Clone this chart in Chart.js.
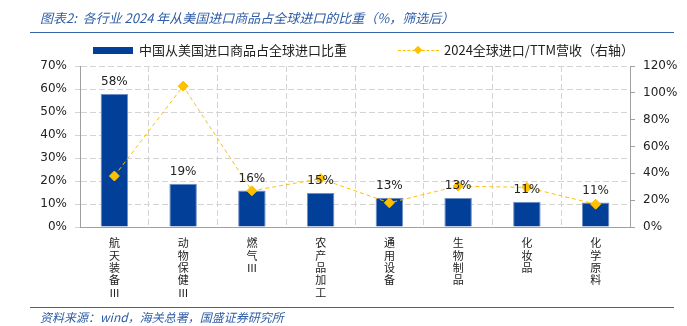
<!DOCTYPE html>
<html>
<head>
<meta charset="utf-8">
<script src="https://cdn.jsdelivr.net/npm/chart.js@4"></script>
<style>
  body { margin: 0; background: #fff; }
  #wrap { position: relative; width: 687px; height: 326px; overflow: hidden; }
  #chart { position: absolute; left: 0; top: 0; }
  .title, .source {
    position: absolute; left: 40px; color: #2E5DA5; font-style: italic;
    font-family: "Noto Sans CJK SC", sans-serif; white-space: nowrap;
  }
  .title { top: 8px; font-size: 13px; }
  .source { top: 308px; font-size: 12px; }
  .rule { position: absolute; left: 30px; width: 644px; height: 1px; background: #3A64A8; }
  .legend { position: absolute; top: 40px; font-family: "Noto Sans CJK SC", sans-serif; font-size: 13px; color: #222; white-space: nowrap; }
</style>
</head>
<body>
<div id="wrap">
  <canvas id="chart" width="687" height="326"></canvas>
  <div class="title">图表2:&nbsp; 各行业 2024 年从美国进口商品占全球进口的比重（%，筛选后）</div>
  <div class="rule" style="top:32px"></div>
  <div class="legend" style="left:93px">
    <span style="display:inline-block;width:40px;height:7px;background:#023F98;vertical-align:middle;margin-right:6px;position:relative;top:-1px"></span>中国从美国进口商品占全球进口比重
  </div>
  <div class="legend" style="left:398px">
    <span style="display:inline-block;width:41px;height:10px;vertical-align:middle;margin-right:5px;position:relative;top:-1px">
      <span style="position:absolute;left:0;top:5px;width:41px;border-top:1px dashed #FFC000"></span>
      <span style="position:absolute;left:17px;top:2px;width:6px;height:6px;background:#FFC000;transform:rotate(45deg)"></span>
    </span>2024全球进口/TTM营收（右轴）
  </div>
  <div class="rule" style="top:307px"></div>
  <div class="source">资料来源：wind，海关总署，国盛证券研究所</div>
</div>
<script>
const categories = ["航天装备Ⅲ", "动物保健Ⅲ", "燃气Ⅲ", "农产品加工", "通用设备", "生物制品", "化妆品", "化学原料"];
const shareUS = [57.8, 18.8, 15.9, 14.8, 12.7, 12.6, 11.0, 10.6];
const importToRevenue = [38, 105, 27, 36, 18, 30.5, 29.5, 17];
const leftTicks = [0, 10, 20, 30, 40, 50, 60, 70];
const rightTicks = [0, 20, 40, 60, 80, 100, 120];

const gridColor = "#D4D4D4";
const axisColor = "#A0A0A0";
const tickFont = { family: "DejaVu Sans", size: 12 };

// percentage labels above the bars (bar dataset is index 1)
const barLabels = {
  id: "barLabels",
  afterDatasetsDraw(chart) {
    const ctx = chart.ctx;
    const meta = chart.getDatasetMeta(1);
    ctx.save();
    ctx.font = "12px 'DejaVu Sans'";
    ctx.fillStyle = "#222";
    ctx.textAlign = "center";
    ctx.textBaseline = "bottom";
    meta.data.forEach((bar, i) => {
      ctx.fillText(Math.round(shareUS[i]) + "%", bar.x, bar.y - 6);
    });
    ctx.restore();
  }
};

new Chart(document.getElementById("chart"), {
  type: "bar",
  data: {
    labels: categories.map(c => Array.from(c)),
    datasets: [
      {
        type: "line",
        label: "2024全球进口/TTM营收（右轴）",
        data: importToRevenue,
        yAxisID: "y1",
        borderColor: "#FFC000",
        borderWidth: 1,
        borderDash: [4, 3],
        pointStyle: "rectRot",
        pointRadius: 5,
        pointBackgroundColor: "#FFC000",
        pointBorderColor: "#FFC000",
        order: 0
      },
      {
        label: "中国从美国进口商品占全球进口比重",
        data: shareUS,
        yAxisID: "y",
        backgroundColor: "#023F98",
        borderColor: "#6F8FC8",
        borderWidth: 1,
        barPercentage: 0.4,
        categoryPercentage: 1,
        order: 1
      }
    ]
  },
  options: {
    responsive: false,
    animation: false,
    layout: { padding: { top: 66, left: 34, right: 0, bottom: 0 } },
    plugins: { legend: { display: false }, tooltip: { enabled: false } },
    scales: {
      x: {
        grid: { color: gridColor, drawTicks: false, offset: true },
        border: { color: axisColor, dash: [6, 3] },
        ticks: { color: "#222", font: { family: "Noto Sans CJK SC", size: 11, lineHeight: 1.12 }, padding: 10, maxRotation: 0 },
        afterFit: s => { s.height = 99; }
      },
      y: {
        position: "left",
        min: 0, max: 70,
        afterBuildTicks: s => { s.ticks = leftTicks.map(v => ({ value: v })); },
        grid: { color: gridColor, tickLength: 5 },
        border: { color: axisColor, dash: [6, 3] },
        ticks: { color: "#222", font: tickFont, padding: 8, callback: v => v + "%" },
        afterFit: s => { s.width = 46; }
      },
      y1: {
        position: "right",
        min: 0, max: 120,
        afterBuildTicks: s => { s.ticks = rightTicks.map(v => ({ value: v })); },
        grid: { drawOnChartArea: false, color: axisColor, tickLength: 5 },
        border: { color: axisColor },
        ticks: { color: "#222", font: tickFont, padding: 8, callback: v => v + "%" },
        afterFit: s => { s.width = 57; }
      }
    }
  },
  plugins: [barLabels]
});
</script>
</body>
</html>
